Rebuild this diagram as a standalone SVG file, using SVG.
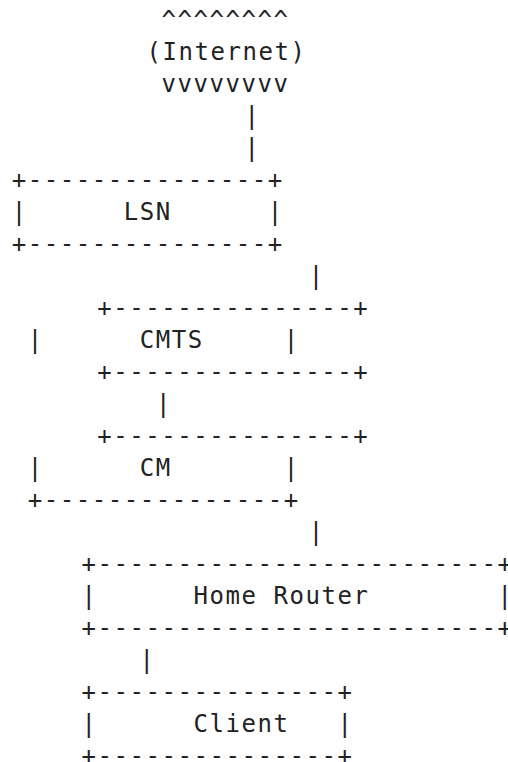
<svg xmlns="http://www.w3.org/2000/svg" width="508" height="762" viewBox="0 0 508 762" xml:space="preserve">
<style>
text { font-family: "DejaVu Sans Mono", "Liberation Mono", monospace; font-size: 24px; letter-spacing: 1.55px; fill: #222; white-space: pre; }
</style>
<rect width="508" height="762" fill="#fff"/>
<g id="internet">
<text x="161.5" y="28">^^^^^^^^</text>
<text x="146.4" y="60">(Internet)</text>
<text x="161.5" y="92">vvvvvvvv</text>
</g>
<g id="lsn">
<text x="11.8" y="188">+---------------+</text>
<text x="11.8" y="220">|      LSN      |</text>
<text x="11.8" y="252">+---------------+</text>
</g>
<g id="cmts">
<text x="97.2" y="316">+---------------+</text>
<text x="27.8" y="348">|      CMTS     |</text>
<text x="97.2" y="380">+---------------+</text>
</g>
<g id="cm">
<text x="97.2" y="444">+---------------+</text>
<text x="27.8" y="476">|      CM       |</text>
<text x="27.8" y="508">+---------------+</text>
</g>
<g id="home-router">
<text x="81.5" y="572">+-------------------------+</text>
<text x="81.5" y="604">|      Home Router        |</text>
<text x="81.5" y="636">+-------------------------+</text>
</g>
<g id="client">
<text x="81.5" y="700">+---------------+</text>
<text x="81.5" y="732">|      Client   |</text>
<text x="81.5" y="764">+---------------+</text>
</g>
<g id="connectors">
<text x="244.5" y="124">|</text>
<text x="244.5" y="156">|</text>
<text x="308.8" y="284">|</text>
<text x="156.1" y="412">|</text>
<text x="308.8" y="540">|</text>
<text x="139.5" y="668">|</text>
</g>
</svg>
